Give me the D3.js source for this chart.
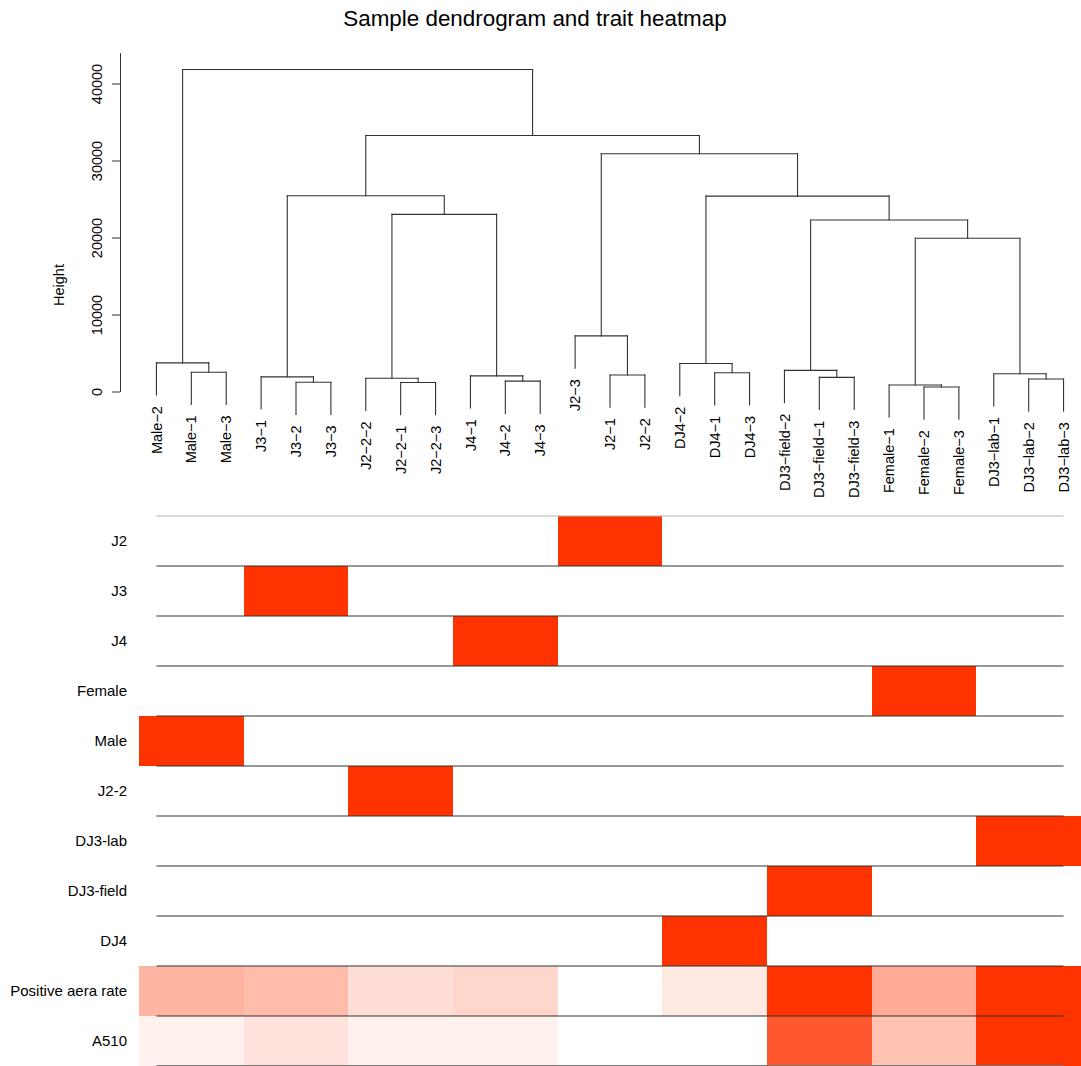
<!DOCTYPE html>
<html>
<head>
<meta charset="utf-8">
<title>Sample dendrogram and trait heatmap</title>
<script src="https://cdn.jsdelivr.net/npm/d3@7"></script>
<style>
  html, body { margin: 0; padding: 0; background: #ffffff; }
  svg { display: block; font-family: "Liberation Sans", Arial, Helvetica, sans-serif; }
</style>
</head>
<body>
<svg id="chart" width="1081" height="1066"></svg>
<script>
// Samples in dendrogram leaf order
const samples = [
  "Male-2", "Male-1", "Male-3",
  "J3-1", "J3-2", "J3-3",
  "J2-2-2", "J2-2-1", "J2-2-3",
  "J4-1", "J4-2", "J4-3",
  "J2-3", "J2-1", "J2-2",
  "DJ4-2", "DJ4-1", "DJ4-3",
  "DJ3-field-2", "DJ3-field-1", "DJ3-field-3",
  "Female-1", "Female-2", "Female-3",
  "DJ3-lab-1", "DJ3-lab-2", "DJ3-lab-3"
];

// Hierarchical clustering merges (hclust convention: negative = leaf index, positive = earlier merge step)
const mergeLeft   = [-23, -22,  -8,  -5, -11, -26,  -7, -20,  -4, -10, -14, -25, -17,  -2, -19, -16,  -1, -13,     2,    15,     7,    16,     9,    18,    23,    17];
const mergeRight  = [-24,   1,  -9,  -6, -12, -27,   3, -21,   4,   5, -15,   6, -18,  -3,   8,  13,  14,  11,    12,    19,    10,    20,    21,    22,    24,    25];
const mergeHeight = [585, 843, 1168, 1211, 1341, 1618, 1730, 1835, 1903, 2032, 2136, 2309, 2438, 2508, 2740, 3645, 3719, 7222, 19893, 22264, 23005, 25367, 25427, 30884, 33254, 41816];

// Height axis ticks
const heightTicks = [0, 10000, 20000, 30000, 40000];

// Sample groups in column order
const groups = ["Male", "J3", "J2-2", "J4", "J2", "DJ4", "DJ3-field", "Female", "DJ3-lab"];

// Trait rows, top to bottom
const traitRows = ["J2", "J3", "J4", "Female", "Male", "J2-2", "DJ3-lab", "DJ3-field", "DJ4", "Positive aera rate", "A510"];

// Trait values per group (scaled 0..1), same order as `groups`
const traitJ2       = [0, 0, 0, 0, 1, 0, 0, 0, 0];
const traitJ3       = [0, 1, 0, 0, 0, 0, 0, 0, 0];
const traitJ4       = [0, 0, 0, 1, 0, 0, 0, 0, 0];
const traitFemale   = [0, 0, 0, 0, 0, 0, 0, 1, 0];
const traitMale     = [1, 0, 0, 0, 0, 0, 0, 0, 0];
const traitJ22      = [0, 0, 1, 0, 0, 0, 0, 0, 0];
const traitDJ3lab   = [0, 0, 0, 0, 0, 0, 0, 0, 1];
const traitDJ3field = [0, 0, 0, 0, 0, 0, 1, 0, 0];
const traitDJ4      = [0, 0, 0, 0, 0, 1, 0, 0, 0];
const positiveAeraRate = [0.37, 0.33, 0.16, 0.20, 0.00, 0.11, 1.00, 0.41, 1.00];
const a510             = [0.07, 0.14, 0.07, 0.07, 0.00, 0.00, 0.82, 0.30, 1.00];

const traitValues = [traitJ2, traitJ3, traitJ4, traitFemale, traitMale, traitJ22,
                     traitDJ3lab, traitDJ3field, traitDJ4, positiveAeraRate, a510];

// ---------------------------------------------------------------
const svg = d3.select("#chart");
const W = 1081, H = 1066;

// Columns shared by the dendrogram leaves and the heatmap cells
const x = d3.scaleBand().domain(samples).range([139, 1081]).padding(0);
const bw = x.bandwidth();
const cx = s => x(s) + bw / 2;

// Dendrogram height scale
const y = d3.scaleLinear().domain([0, 44000]).range([391.5, 52.7]);

const ink = "#333333";

// Title
svg.append("text")
  .attr("x", 535).attr("y", 26)
  .attr("text-anchor", "middle")
  .attr("font-size", 22.4)
  .attr("fill", "#000")
  .text("Sample dendrogram and trait heatmap");

// Y axis
const axisX = 120;
const yAxis = svg.append("g")
  .attr("transform", `translate(${axisX},0)`)
  .call(d3.axisLeft(y).tickValues(heightTicks).tickSize(8).tickSizeOuter(0).tickFormat(d3.format("d")));
yAxis.select(".domain").attr("stroke", ink);
yAxis.selectAll(".tick line").attr("stroke", ink);
yAxis.selectAll(".tick text")
  .attr("x", null).attr("dy", null)
  .attr("transform", "rotate(-90)")
  .attr("y", -18)
  .attr("text-anchor", "middle")
  .attr("font-size", 14.5)
  .attr("font-family", "Liberation Sans, Arial, Helvetica, sans-serif")
  .attr("fill", "#000");

svg.append("text")
  .attr("transform", "translate(64,285) rotate(-90)")
  .attr("text-anchor", "middle")
  .attr("font-size", 14.5)
  .attr("fill", "#000")
  .text("Height");

// Build dendrogram node positions
const maxH = d3.max(mergeHeight);
const hang = 0.1 * maxH;
const nodes = mergeHeight.map(() => ({}));
function childInfo(ref) {
  if (ref < 0) return { leaf: true, xpos: cx(samples[-ref - 1]), name: samples[-ref - 1] };
  const n = nodes[ref - 1];
  return { leaf: false, xpos: n.xpos, h: n.h };
}
const segs = [];
const leafEnds = [];
mergeHeight.forEach((h, i) => {
  const a = childInfo(mergeLeft[i]);
  const b = childInfo(mergeRight[i]);
  nodes[i] = { xpos: (a.xpos + b.xpos) / 2, h };
  segs.push([a.xpos, y(h), b.xpos, y(h)]);
  [a, b].forEach(c => {
    const bottom = c.leaf ? h - hang : c.h;
    segs.push([c.xpos, y(h), c.xpos, y(bottom)]);
    if (c.leaf) leafEnds.push({ name: c.name, xpos: c.xpos, yEnd: y(h - hang) });
  });
});

svg.append("g")
  .selectAll("line")
  .data(segs)
  .join("line")
  .attr("x1", d => d[0]).attr("y1", d => d[1])
  .attr("x2", d => d[2]).attr("y2", d => d[3])
  .attr("stroke", ink)
  .attr("stroke-width", 1.1)
  .attr("stroke-linecap", "square");

// Leaf labels
svg.append("g")
  .selectAll("text")
  .data(leafEnds)
  .join("text")
  .attr("transform", d => `translate(${d.xpos},${d.yEnd + 11}) rotate(-90)`)
  .attr("text-anchor", "end")
  .attr("dy", "0.35em")
  .attr("font-size", 14.5)
  .attr("fill", "#000")
  .text(d => d.name.replace(/-/g, "\u2212"));

// Heatmap
const yRow = d3.scaleBand().domain(traitRows).range([516, 1066]).padding(0);
const rh = yRow.bandwidth();
const color = d3.scaleLinear().domain([0, 1]).range(["#ffffff", "#ff3300"]).interpolate(d3.interpolateRgb);
const groupOf = s => s.replace(/-\d+$/, "");

const cells = [];
traitRows.forEach((t, r) => {
  samples.forEach(s => {
    const gi = groups.indexOf(groupOf(s));
    cells.push({ trait: t, sample: s, v: traitValues[r][gi] });
  });
});

svg.append("g")
  .attr("shape-rendering", "crispEdges")
  .selectAll("rect")
  .data(cells)
  .join("rect")
  .attr("x", d => x(d.sample))
  .attr("y", d => yRow(d.trait))
  .attr("width", bw + 0.6)
  .attr("height", rh)
  .attr("fill", d => color(d.v));

// Row separator lines
const lineX1 = cx(samples[0]);
const lineX2 = cx(samples[samples.length - 1]);
const boundaries = traitRows.map(t => yRow(t)).concat([yRow.range()[1]]);
svg.append("g")
  .selectAll("line")
  .data(boundaries)
  .join("line")
  .attr("x1", lineX1).attr("x2", lineX2)
  .attr("y1", d => Math.min(d, H - 0.5)).attr("y2", d => Math.min(d, H - 0.5))
  .attr("stroke", (d, i) => i === 0 ? "#b4b4b4" : (i === boundaries.length - 1 ? "#777777" : ink))
  .attr("stroke-width", 1.2);

// Row labels
svg.append("g")
  .selectAll("text")
  .data(traitRows)
  .join("text")
  .attr("x", 127)
  .attr("y", d => yRow(d) + rh / 2)
  .attr("dy", "0.35em")
  .attr("text-anchor", "end")
  .attr("font-size", 15)
  .attr("fill", "#000")
  .text(d => d);
</script>
</body>
</html>
